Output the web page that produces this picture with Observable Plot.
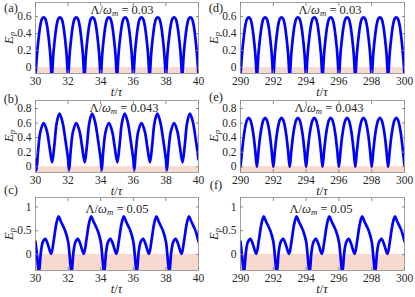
<!DOCTYPE html>
<html><head><meta charset="utf-8">
<script src="https://cdn.jsdelivr.net/npm/d3@7"></script>
<script src="https://cdn.jsdelivr.net/npm/@observablehq/plot@0.6"></script>
<style>
body{margin:0;background:#fff;}
#c{position:relative;width:415px;height:297px;overflow:hidden;font-family:"Liberation Serif","DejaVu Serif",serif;color:#262626;}
#c svg{position:absolute;overflow:visible;}
.lab{position:absolute;font-size:12.5px;white-space:nowrap;transform:translate(-50%,-50%);line-height:1;}
.lab sub{font-size:70%;vertical-align:-0.3em;line-height:0;}
.rot{transform:translate(-50%,-50%) rotate(-90deg);}
</style></head><body><div id="c"></div>
<script>
// ---------- data ----------
const ticksLeftX = [30, 32, 34, 36, 38, 40];
const ticksRightX = [290, 292, 294, 296, 298, 300];
const ticksY1 = [0, 0.2, 0.4, 0.6];
const ticksY2 = [0, 0.2, 0.4, 0.6, 0.8];
const ticksY3 = [0, 0.5, 1];
const lambdaLabels = ["0.03", "0.043", "0.05"];

// (a) and (d): sampled every 0.1 in t
const epA = [
 -0.09,0.17,0.36,0.50,0.575,0.59,0.575,0.50,0.36,0.17,
 -0.09,0.17,0.36,0.50,0.575,0.59,0.575,0.50,0.36,0.17,
 -0.09,0.17,0.36,0.50,0.575,0.59,0.575,0.50,0.36,0.17,
 -0.09,0.17,0.36,0.50,0.575,0.59,0.575,0.50,0.36,0.17,
 -0.09,0.17,0.36,0.50,0.575,0.59,0.575,0.50,0.36,0.17,
 -0.09,0.17,0.36,0.50,0.575,0.59,0.575,0.50,0.36,0.17,
 -0.09,0.17,0.36,0.50,0.575,0.59,0.575,0.50,0.36,0.17,
 -0.09,0.17,0.36,0.50,0.575,0.59,0.575,0.50,0.36,0.17,
 -0.09,0.17,0.36,0.50,0.575,0.59,0.575,0.50,0.36,0.17,
 -0.09,0.17,0.36,0.50,0.575,0.59,0.575,0.50,0.36,0.17,
 -0.09];
const epD = [
 -0.09,0.17,0.36,0.50,0.575,0.59,0.575,0.50,0.36,0.17,
 -0.09,0.17,0.36,0.50,0.575,0.59,0.575,0.50,0.36,0.17,
 -0.09,0.17,0.36,0.50,0.575,0.59,0.575,0.50,0.36,0.17,
 -0.09,0.17,0.36,0.50,0.575,0.59,0.575,0.50,0.36,0.17,
 -0.09,0.17,0.36,0.50,0.575,0.59,0.575,0.50,0.36,0.17,
 -0.09,0.17,0.36,0.50,0.575,0.59,0.575,0.50,0.36,0.17,
 -0.09,0.17,0.36,0.50,0.575,0.59,0.575,0.50,0.36,0.17,
 -0.09,0.17,0.36,0.50,0.575,0.59,0.575,0.50,0.36,0.17,
 -0.09,0.17,0.36,0.50,0.575,0.59,0.575,0.50,0.36,0.17,
 -0.09,0.17,0.36,0.50,0.575,0.59,0.575,0.50,0.36,0.17,
 -0.09];
// (e): sampled every 0.1 in t
const epE = [
 0.0,0.22,0.42,0.56,0.645,0.67,0.645,0.56,0.42,0.22,
 0.0,0.22,0.42,0.56,0.645,0.67,0.645,0.56,0.42,0.22,
 0.0,0.22,0.42,0.56,0.645,0.67,0.645,0.56,0.42,0.22,
 0.0,0.22,0.42,0.56,0.645,0.67,0.645,0.56,0.42,0.22,
 0.0,0.22,0.42,0.56,0.645,0.67,0.645,0.56,0.42,0.22,
 0.0,0.22,0.42,0.56,0.645,0.67,0.645,0.56,0.42,0.22,
 0.0,0.22,0.42,0.56,0.645,0.67,0.645,0.56,0.42,0.22,
 0.0,0.22,0.42,0.56,0.645,0.67,0.645,0.56,0.42,0.22,
 0.0,0.22,0.42,0.56,0.645,0.67,0.645,0.56,0.42,0.22,
 0.0,0.22,0.42,0.56,0.645,0.67,0.645,0.56,0.42,0.22,
 0.02];

// (b): knots
const tB = [
 30,30.06,30.16,30.30,30.50,30.70,30.86,31.02,31.16,31.30,31.47,31.65,31.84,31.93,
 32,32.06,32.16,32.30,32.50,32.70,32.86,33.02,33.16,33.30,33.47,33.65,33.84,33.93,
 34,34.06,34.16,34.30,34.50,34.70,34.86,35.02,35.16,35.30,35.47,35.65,35.84,35.93,
 36,36.06,36.16,36.30,36.50,36.70,36.86,37.02,37.16,37.30,37.47,37.65,37.84,37.93,
 38,38.06,38.16,38.30,38.50,38.70,38.86,39.02,39.16,39.30,39.47,39.65,39.84,39.93,
 40];
const epB = [
 0.10,-0.05,0.22,0.48,0.60,0.49,0.27,0.06,0.30,0.60,0.73,0.62,0.36,0.22,
 0.10,-0.05,0.22,0.48,0.60,0.49,0.27,0.06,0.30,0.60,0.73,0.62,0.36,0.22,
 0.10,-0.05,0.22,0.48,0.60,0.49,0.27,0.06,0.30,0.60,0.73,0.62,0.36,0.22,
 0.10,-0.05,0.22,0.48,0.60,0.49,0.27,0.06,0.30,0.60,0.73,0.62,0.36,0.22,
 0.10,-0.05,0.22,0.48,0.60,0.49,0.27,0.06,0.30,0.60,0.73,0.62,0.36,0.22,
 0.10];

// (c) and (f): knots
const tC = [
 30,30.10,30.21,30.33,30.45,30.60,30.75,30.96,31.12,31.28,31.42,31.55,31.70,31.82,
 32,32.10,32.21,32.33,32.45,32.60,32.75,32.96,33.12,33.28,33.42,33.55,33.70,33.82,
 34,34.10,34.21,34.33,34.45,34.60,34.75,34.96,35.12,35.28,35.42,35.55,35.70,35.82,
 36,36.10,36.21,36.33,36.45,36.60,36.75,36.96,37.12,37.28,37.42,37.55,37.70,37.82,
 38,38.10,38.21,38.33,38.45,38.60,38.75,38.96,39.12,39.28,39.42,39.55,39.70,39.82,
 40];
const epC = [
 0.27,-0.05,-0.40,0.05,0.26,0.33,0.22,0.01,0.30,0.65,0.80,0.70,0.59,0.50,
 0.27,-0.05,-0.40,0.05,0.26,0.33,0.22,0.01,0.30,0.65,0.80,0.70,0.59,0.50,
 0.27,-0.05,-0.40,0.05,0.26,0.33,0.22,0.01,0.30,0.65,0.80,0.70,0.59,0.50,
 0.27,-0.05,-0.40,0.05,0.26,0.33,0.22,0.01,0.30,0.65,0.80,0.70,0.59,0.50,
 0.27,-0.05,-0.40,0.05,0.26,0.33,0.22,0.01,0.30,0.65,0.80,0.70,0.59,0.50,
 0.27];
const tF = [
 290,290.10,290.21,290.33,290.45,290.60,290.75,290.96,291.12,291.28,291.42,291.55,291.70,291.82,
 292,292.10,292.21,292.33,292.45,292.60,292.75,292.96,293.12,293.28,293.42,293.55,293.70,293.82,
 294,294.10,294.21,294.33,294.45,294.60,294.75,294.96,295.12,295.28,295.42,295.55,295.70,295.82,
 296,296.10,296.21,296.33,296.45,296.60,296.75,296.96,297.12,297.28,297.42,297.55,297.70,297.82,
 298,298.10,298.21,298.33,298.45,298.60,298.75,298.96,299.12,299.28,299.42,299.55,299.70,299.82,
 300];
const epF = [
 0.27,-0.05,-0.40,0.05,0.26,0.33,0.22,0.01,0.30,0.65,0.80,0.70,0.59,0.50,
 0.27,-0.05,-0.40,0.05,0.26,0.33,0.22,0.01,0.30,0.65,0.80,0.70,0.59,0.50,
 0.27,-0.05,-0.40,0.05,0.26,0.33,0.22,0.01,0.30,0.65,0.80,0.70,0.59,0.50,
 0.27,-0.05,-0.40,0.05,0.26,0.33,0.22,0.01,0.30,0.65,0.80,0.70,0.59,0.50,
 0.27,-0.05,-0.40,0.05,0.26,0.33,0.22,0.01,0.30,0.65,0.80,0.70,0.59,0.50,
 0.27];

const yDomain1 = [-0.07, 0.765];
const yDomain2 = [-0.08, 0.91];
const yDomain3 = [-0.34, 1.2];

// ---------- build ----------
const grid = (start, n) => Array.from({length: n}, (_, i) => start + i / 10);
const panels = [
  {lab:"(a)", col:0, row:0, t:grid(30, epA.length), e:epA, xd:[30,40], xt:ticksLeftX, yd:yDomain1, yt:ticksY1, lam:lambdaLabels[0], tx:122},
  {lab:"(b)", col:0, row:1, t:tB, e:epB, xd:[30,40], xt:ticksLeftX, yd:yDomain2, yt:ticksY2, lam:lambdaLabels[1], tx:124},
  {lab:"(c)", col:0, row:2, t:tC, e:epC, xd:[30,40], xt:ticksLeftX, yd:yDomain3, yt:ticksY3, lam:lambdaLabels[2], tx:117},
  {lab:"(d)", col:1, row:0, t:grid(290, epD.length), e:epD, xd:[290,300], xt:ticksRightX, yd:yDomain1, yt:ticksY1, lam:lambdaLabels[0], tx:330},
  {lab:"(e)", col:1, row:1, t:grid(290, epE.length), e:epE, xd:[290,300], xt:ticksRightX, yd:yDomain2, yt:ticksY2, lam:lambdaLabels[1], tx:329},
  {lab:"(f)", col:1, row:2, t:tF, e:epF, xd:[290,300], xt:ticksRightX, yd:yDomain3, yt:ticksY3, lam:lambdaLabels[2], tx:321}
];
const cols = [{left:0, width:207, ml:35, mr:9}, {left:205, width:205, ml:35, mr:6}];
const rows = [{top:2, bottom:73}, {top:100, bottom:172}, {top:197, bottom:270}];
const labY = [[8, 99, 190], [7.5, 97, 185]];
const titleY = [9.5, 107.5, 208.5];
const pink = "#f7d9cd", blue = "#0000ff", axisGray = "#888888", txt = "#262626";
const c = document.getElementById("c");
const MT = 4, MB = 22;

function addLabel(html, x, y, cls) {
  const s = document.createElement("span");
  s.className = "lab" + (cls ? " " + cls : "");
  s.innerHTML = html;
  s.style.left = x + "px"; s.style.top = y + "px";
  c.appendChild(s);
}

for (const p of panels) {
  const col = cols[p.col], row = rows[p.row];
  const pts = p.t.map((t, i) => ({t, e: p.e[i]}));
  const fmt = d => String(d);
  const svg = Plot.plot({
    width: col.width,
    height: row.bottom - row.top + MT + MB,
    marginLeft: col.ml, marginRight: col.mr, marginTop: MT, marginBottom: MB,
    style: {background: "transparent", fontFamily: '"Liberation Serif","DejaVu Serif",serif', fontSize: "11.5px", color: txt, overflow: "visible"},
    x: {domain: p.xd},
    y: {domain: p.yd},
    marks: [
      Plot.rect([0], {x1: p.xd[0], x2: p.xd[1], y1: p.yd[0], y2: 0, fill: pink}),
      Plot.line(pts, {x: "t", y: "e", stroke: blue, strokeWidth: 2.7, curve: "catmull-rom", clip: true}),
      Plot.frame({stroke: axisGray, strokeWidth: 0.8}),
      Plot.axisX(p.xt, {anchor: "bottom", tickSize: -3, tickPadding: 6, tickFormat: fmt, stroke: axisGray, fill: txt, label: null}),
      Plot.axisX(p.xt, {anchor: "top", tickSize: -3, tickFormat: () => "", stroke: axisGray, label: null}),
      Plot.axisY(p.yt, {anchor: "left", tickSize: -3, tickPadding: 7, tickFormat: fmt, stroke: axisGray, fill: txt, label: null}),
      Plot.axisY(p.yt, {anchor: "right", tickSize: -3, tickFormat: () => "", stroke: axisGray, label: null})
    ]
  });
  svg.style.left = col.left + "px";
  svg.style.top = (row.top - MT) + "px";
  c.appendChild(svg);

  const plotLeft = col.left + col.ml, plotRight = col.left + col.width - col.mr;
  const cx = (plotLeft + plotRight) / 2;
  addLabel(p.lab, col.left + 11, labY[p.col][p.row]);
  addLabel("Λ/<i>ω</i><sub><i>m</i></sub> = " + p.lam, p.tx, titleY[p.row]);
  addLabel("<i>t</i>/<i>τ</i>", cx, row.bottom + 18.5);
  addLabel("<i>E</i><sub><i>p</i></sub>", col.left + 9, (row.top + row.bottom) / 2, "rot");
}
</script></body></html>
